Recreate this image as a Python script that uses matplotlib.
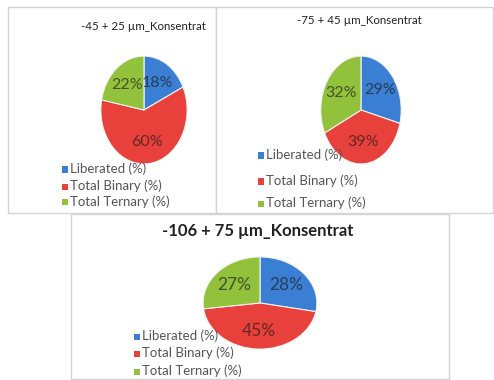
import matplotlib.pyplot as plt
from matplotlib.patches import Rectangle

plt.rcParams['font.family'] = ['Lato', 'DejaVu Sans']

W, H = 494, 380

categories = ["Liberated (%)", "Total Binary (%)", "Total Ternary (%)"]
colors = ["#3b7fd4", "#e8403b", "#92c13c"]

titles = ["-45 + 25 µm_Konsentrat", "-75 + 45 µm_Konsentrat", "-106 + 75 µm_Konsentrat"]
vals_45_25 = [18, 60, 22]
vals_75_45 = [29, 39, 32]
vals_106_75 = [28, 45, 27]

fig = plt.figure(figsize=(W / 100, H / 100), dpi=100)


def fx(x):
    return x / W


def fy(y):
    return 1 - y / H


def box(x0, y0, x1, y1):
    fig.add_artist(Rectangle((fx(x0), fy(y1)), fx(x1) - fx(x0), fy(y0) - fy(y1),
                             transform=fig.transFigure, facecolor="white",
                             edgecolor="#d4d4d4", lw=1.0, zorder=0))


def pie(vals, cx, cy, rx, ry, fs):
    ax = fig.add_axes([fx(cx - rx), fy(cy + ry), 2 * rx / W, 2 * ry / H])
    ax.pie(vals, colors=colors, startangle=90, counterclock=False, radius=1,
           autopct=lambda p: f"{p:.0f}%", pctdistance=0.6,
           wedgeprops=dict(edgecolor="#f2f2f2", linewidth=0.8),
           textprops=dict(fontsize=fs, color="#1a1a1a", alpha=0.65))
    ax.set_xlim(-1.02, 1.02)
    ax.set_ylim(-1.02, 1.02)
    ax.set_aspect("auto")
    ax.axis("off")


def legend(x, ys, fs):
    for c, lab, y in zip(colors, categories, ys):
        fig.add_artist(Rectangle((fx(x), fy(y + 3.5)), 6 / W, 6 / H,
                                 transform=fig.transFigure, facecolor=c,
                                 edgecolor="none", zorder=3))
        fig.text(fx(x + 8), fy(y), lab, fontsize=fs, color="#555555", va="center")


# panel frames
box(8, 7, 216, 213)
box(216, 7, 493, 213)
box(71, 214, 449, 379)

# top left
fig.text(fx(143), fy(26), titles[0], fontsize=8.3, color="#222222", ha="center", va="center")
pie(vals_45_25, 144, 110, 44, 55, 11.5)
legend(62, [169, 186, 202], 9.5)

# top right
fig.text(fx(359), fy(20), titles[1], fontsize=8.3, color="#222222", ha="center", va="center")
pie(vals_75_45, 361, 110, 41, 55, 11.5)
legend(258, [155, 181, 203], 9.5)

# bottom
fig.text(fx(258), fy(231), titles[2], fontsize=12, fontweight="bold", color="#222222",
         ha="center", va="center")
pie(vals_106_75, 260, 303, 58, 47, 12.5)
legend(134, [336, 353, 371], 9.5)

fig.savefig("out.png", dpi=100)
